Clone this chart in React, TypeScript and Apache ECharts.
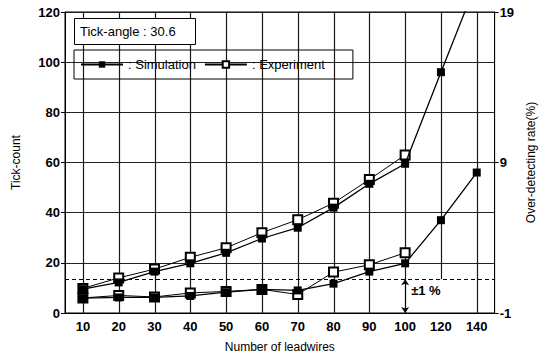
import React, { useEffect, useRef } from 'react';
import * as echarts from 'echarts';

const categories = ['10', '20', '30', '40', '50', '60', '70', '80', '90', '100', '120', '140'];
const simulationTick = [9.5, 12.2, 16.5, 19.8, 24, 29.7, 34, 42, 51.5, 59.5, 96, 132];
const experimentTick = [9.8, 14, 17.5, 22.2, 26, 32, 37.2, 43.8, 53.2, 63, null, null];
const simulationRate = [5.9, 6.2, 6.2, 6.8, 8.3, 9.4, 9, 11.7, 16.5, 19.8, 37, 56];
const experimentRate = [6, 7, 6.4, 8, 8.6, 9.4, 7.4, 16.3, 19.2, 24, null, null];
const leftTicks = { min: 0, max: 120, interval: 20 };
const rightTickValues = [-1, 9, 19];
const toleranceLevel = 13.5;
const gappedColumns = ['100', '120'];

const FONT = 'Liberation Sans, Arial, Helvetica, sans-serif';

export default function App() {
  const ref = useRef<HTMLDivElement>(null);
  useEffect(() => {
    document.body.style.margin = '0';
    const chart = echarts.init(ref.current!, null, { renderer: 'svg' });

    const gridColumns = categories.map((c) => [c, gappedColumns.includes(c) ? toleranceLevel : leftTicks.min]);

    const option: any = {
      animation: false,
      textStyle: { fontFamily: FONT, color: '#000' },
      title: {
        text: 'Tick-angle : 30.6',
        left: 74,
        top: 18,
        padding: [7, 20, 7, 6],
        borderWidth: 1,
        borderColor: '#000',
        backgroundColor: '#fff',
        textStyle: { fontSize: 13, fontWeight: 'normal', color: '#000', fontFamily: FONT },
      },
      legend: {
        left: 74,
        top: 50,
        padding: [8, 28, 8, 6],
        itemGap: 8,
        itemWidth: 42,
        itemHeight: 8,
        borderWidth: 1,
        borderColor: '#000',
        data: ['Simulation', 'Experiment'],
        formatter: ': {name}',
        textStyle: { fontSize: 13, color: '#000', fontFamily: FONT },
      },
      grid: {
        left: 65,
        right: 46,
        top: 12,
        bottom: 39,
        show: true,
        borderColor: '#000',
        borderWidth: 1,
        backgroundColor: 'transparent',
      },
      xAxis: {
        type: 'category',
        data: categories,
        boundaryGap: true,
        name: 'Number of leadwires',
        nameLocation: 'middle',
        nameGap: 28,
        nameTextStyle: { fontSize: 12, color: '#000', fontFamily: FONT },
        axisLine: { lineStyle: { color: '#000', width: 1 } },
        axisTick: { alignWithLabel: true, length: 4, lineStyle: { color: '#000' } },
        axisLabel: { fontSize: 13, fontWeight: 'bold', color: '#000', margin: 7, fontFamily: FONT },
        splitLine: { show: false },
      },
      yAxis: [
        {
          type: 'value',
          min: leftTicks.min,
          max: leftTicks.max,
          interval: leftTicks.interval,
          name: 'Tick-count',
          nameLocation: 'middle',
          nameRotate: 90,
          nameGap: 43,
          nameTextStyle: { fontSize: 12, color: '#000', fontFamily: FONT },
          axisLine: { show: true, lineStyle: { color: '#000' } },
          axisTick: { show: true, length: 4, lineStyle: { color: '#000' } },
          axisLabel: { fontSize: 13, fontWeight: 'bold', color: '#000', margin: 5, fontFamily: FONT },
          splitLine: { show: true, lineStyle: { color: '#222', width: 1 } },
        },
        {
          type: 'value',
          position: 'right',
          min: -1,
          max: 19,
          name: 'Over-detecting rate(%)',
          nameLocation: 'middle',
          nameRotate: 90,
          nameGap: 30,
          nameTextStyle: { fontSize: 12, color: '#000', fontFamily: FONT },
          axisLine: { show: true, lineStyle: { color: '#000' } },
          axisTick: { show: true, length: 4, customValues: rightTickValues, lineStyle: { color: '#000' } },
          axisLabel: { fontSize: 13, fontWeight: 'bold', color: '#000', margin: 5, customValues: rightTickValues, fontFamily: FONT },
          splitLine: { show: false },
        },
      ],
      series: [
        {
          name: 'gridColumns',
          type: 'custom',
          silent: true,
          z: 1,
          data: gridColumns,
          renderItem: (params: any, api: any) => {
            const x = api.value(0);
            const bottom = api.coord([x, api.value(1)]);
            const top = api.coord([x, leftTicks.max]);
            const px = Math.round(bottom[0]) + 0.5;
            return {
              type: 'line',
              shape: { x1: px, y1: bottom[1], x2: px, y2: top[1] },
              style: { stroke: '#1a1a1a', lineWidth: 1.2 },
            };
          },
        },
        {
          name: 'Simulation',
          type: 'line',
          data: simulationTick,
          symbol: 'rect',
          symbolSize: 8,
          lineStyle: { color: '#000', width: 1.3 },
          itemStyle: { color: '#000' },
          z: 6,
        },
        {
          name: 'Experiment',
          type: 'line',
          data: experimentTick,
          symbol: 'emptyRect',
          symbolSize: 9,
          lineStyle: { color: '#000', width: 1 },
          itemStyle: { color: '#000', borderColor: '#000', borderWidth: 1.2 },
          z: 5,
        },
        {
          name: 'Simulation',
          type: 'line',
          data: simulationRate,
          symbol: 'rect',
          symbolSize: 8,
          lineStyle: { color: '#000', width: 1.3 },
          itemStyle: { color: '#000' },
          z: 6,
          markLine: {
            silent: true,
            label: { show: false },
            data: [
              [
                { coord: ['100', toleranceLevel], symbol: 'arrow', symbolSize: 6 },
                { coord: ['100', 0], symbol: 'arrow', symbolSize: 6 },
              ],
              {
                yAxis: toleranceLevel,
                symbol: 'none',
                lineStyle: { type: [4, 3], width: 1, color: '#000' },
              },
            ],
            symbol: ['none', 'none'],
            lineStyle: { color: '#000', width: 1.2, type: 'solid' },
          },
          markPoint: {
            silent: true,
            symbol: 'rect',
            symbolSize: 0,
            data: [{ coord: ['100', 9], value: '±1 %' }],
            label: {
              show: true,
              position: 'right',
              distance: 6,
              formatter: '±1 %',
              fontSize: 13,
              fontWeight: 'bold',
              color: '#000',
              fontFamily: FONT,
            },
          },
        },
        {
          name: 'Experiment',
          type: 'line',
          data: experimentRate,
          symbol: 'emptyRect',
          symbolSize: 9,
          lineStyle: { color: '#000', width: 1 },
          itemStyle: { color: '#000', borderColor: '#000', borderWidth: 1.2 },
          z: 5,
        },
      ],
    };
    chart.setOption(option);
    return () => chart.dispose();
  }, []);
  return <div ref={ref} style={{ width: 545, height: 358 }} />;
}
